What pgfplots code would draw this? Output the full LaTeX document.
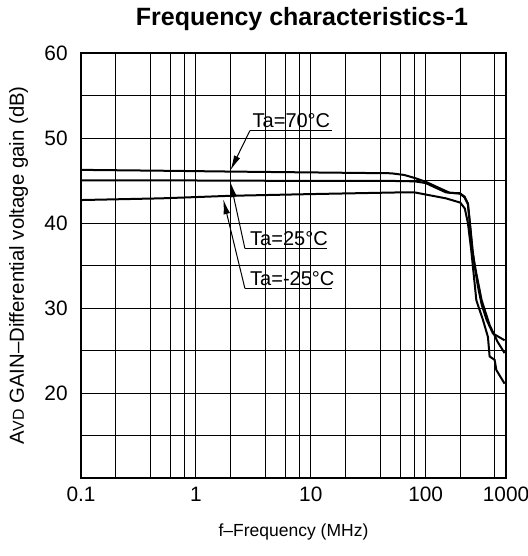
\documentclass[border=0pt]{standalone}
\usepackage{fontspec}
\setmainfont{Liberation Sans}
\usepackage{pgfplots}
\pgfplotsset{compat=1.18}
\usetikzlibrary{arrows.meta}

\begin{document}
\begin{tikzpicture}
\begin{axis}[
    width=255pt, height=255pt, scale only axis,
    xmode=log, xmin=0.1, xmax=500,
    ymin=10, ymax=60,
    xtick={0.1,1,10,100,500},
    xticklabels={0.1,1,10,100,1000},
    minor xtick={0.2,0.4,0.6,0.8,2,4,6,8,20,40,60,80,200,400},
    ytick={20,30,40,50,60},
    minor ytick={15,25,35,45,55},
    grid=both,
    major grid style={black, line width=0.5pt},
    minor grid style={black, line width=0.5pt},
    tick style={draw=none},
    axis line style={line width=0.8pt},
    /pgf/number format/assume math mode=true,
    tick label style={font=\fontsize{12.5}{14}\selectfont},
    xticklabel style={anchor=base, inner sep=0pt, yshift=-13.8pt},
    yticklabel style={anchor=east, inner sep=0pt, xshift=-7.8pt},
    title={Frequency characteristics-1},
    title style={font=\fontsize{15}{17}\selectfont\bfseries,
        at={(axis description cs:0.52,1.042)}, anchor=base},
    xlabel={f–Frequency (MHz)},
    xlabel style={font=\fontsize{10.5}{12}\selectfont,
        at={(axis description cs:0.5,-0.137)}, anchor=base},
    ylabel={A{\fontsize{9.5}{11}\selectfont VD} GAIN–Differential voltage gain (dB)},
    ylabel style={font=\fontsize{12.2}{14}\selectfont,
        at={(axis description cs:-0.147,0.5)}, anchor=center},
]
% Ta = 70 C
\addplot[black, line width=1.2pt] coordinates {
    (0.1,46.25) (0.5,46.15) (2,46.05) (10,45.95) (50,45.85) (65,45.65) (80,45.3)
    (100,44.85) (132,44.1) (162,43.55) (198,43.5) (218,43.1) (233,42.3) (241,40.4)
    (256,36.8) (267,34.9) (285,32.5) (307,30.4) (339,28.6) (385,27.0) (486,26.2)
};
% Ta = 25 C
\addplot[black, line width=1.2pt] coordinates {
    (0.1,45.0) (1,45.0) (10,44.95) (50,44.95) (80,44.9) (100,44.7) (120,44.2)
    (150,43.6) (200,43.45) (218,43.0) (233,42.2) (241,40.2) (256,36.5) (272,34.5)
    (307,30.9) (360,28.0) (423,26.0) (486,24.7)
};
% Ta = -25 C
\addplot[black, line width=1.2pt] coordinates {
    (0.1,42.7) (0.5,42.9) (2,43.2) (10,43.4) (60,43.6) (80,43.6) (100,43.35)
    (150,42.9) (200,42.4) (219,41.7) (233,40.0) (249,36.8) (276,30.9) (315,28.6)
    (348,26.6) (360,24.3) (398,23.9) (412,22.7) (486,21.1)
};
% labels
\draw[line width=0.6pt] (axis cs:2.95,50.86) -- (axis cs:15.2,50.86);
\draw[line width=0.6pt, -{Latex[length=9pt,width=4pt]}] (axis cs:2.95,50.86) -- (axis cs:2,46.2);
\node[anchor=base west, inner sep=0pt, font=\fontsize{12}{14}\selectfont] at (axis cs:3.1,51.2) {Ta=70°C};
\draw[line width=0.6pt] (axis cs:2.67,37.0) -- (axis cs:13.8,37.0);
\draw[line width=0.6pt, -{Latex[length=9pt,width=4pt]}] (axis cs:2.67,37.0) -- (axis cs:2,44.8);
\node[anchor=base west, inner sep=0pt, font=\fontsize{12}{14}\selectfont] at (axis cs:2.95,37.35) {Ta=25°C};
\draw[line width=0.6pt] (axis cs:2.67,32.3) -- (axis cs:15.2,32.3);
\draw[line width=0.6pt, -{Latex[length=9pt,width=4pt]}] (axis cs:2.67,32.3) -- (axis cs:1.73,42.8);
\node[anchor=base west, inner sep=0pt, font=\fontsize{12}{14}\selectfont] at (axis cs:2.95,32.65) {Ta=-25°C};
\end{axis}
\pgfresetboundingbox
\path ([shift={(-48.6pt,-46.8pt)}]current axis.south west) rectangle ([shift={(12.6pt,31.8pt)}]current axis.north east);
\end{tikzpicture}
\end{document}
